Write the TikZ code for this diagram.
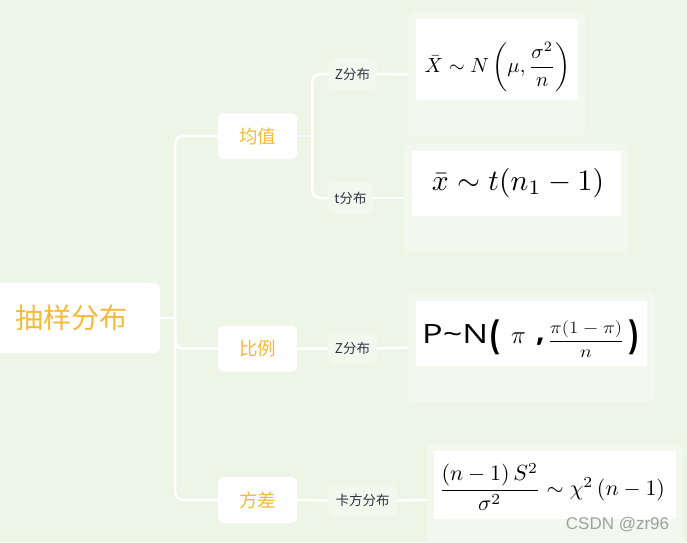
\documentclass[tikz,border=0pt]{standalone}
\usepackage{fontspec}
\usepackage{graphicx}
\usepackage{amsmath}
\newfontfamily\cjk{Noto Sans CJK SC}
\newfontfamily\osans{Open Sans}
\newfontfamily\wmfont{Liberation Sans}
\definecolor{bgc}{HTML}{EDF5E7}
\definecolor{paleb}{HTML}{F3F8EE}
\definecolor{orangec}{HTML}{F7B939}
\definecolor{darkc}{HTML}{333344}
\definecolor{wmc}{HTML}{A0A0A0}
\begin{document}
\begin{tikzpicture}[x=1pt,y=-1pt,
  rootbox/.style={fill=white,rounded corners=6pt,inner sep=0pt,minimum width=178pt,minimum height=70pt,font=\cjk\fontsize{28}{30}\selectfont,text=orangec},
  lvbox/.style={fill=white,rounded corners=6pt,inner sep=0pt,minimum width=79pt,minimum height=46pt,font=\cjk\fontsize{18.5}{20}\selectfont,text=orangec},
  smallbox/.style={fill=paleb,rounded corners=6pt,inner sep=0pt,minimum height=32pt,font=\cjk\fontsize{13.5}{15}\selectfont,text=darkc},
  outerbox/.style={fill=paleb,rounded corners=6pt,inner sep=0pt},
  innerbox/.style={fill=white,inner sep=0pt},
  conn/.style={draw=white,line width=2.5pt},
  fnode/.style={inner sep=0pt}]
\fill[bgc] (0,0) rectangle (687,542);
\useasboundingbox (0,0) rectangle (687,542);

% outer formula boxes
\node[outerbox,minimum width=177pt,minimum height=125pt] (f1) at (496.5,74.5) {};
\node[outerbox,minimum width=224pt,minimum height=108pt] (f2) at (516,198) {};
\node[outerbox,minimum width=247pt,minimum height=109pt] (f3) at (531.5,347.5) {};
\node[outerbox,minimum width=256pt,minimum height=112pt] (f4) at (555,500) {};
% inner white boxes
\node[innerbox,minimum width=162pt,minimum height=81pt] (i1) at (497,59.5) {};
\node[innerbox,minimum width=209pt,minimum height=65pt] (i2) at (516.5,183.5) {};
\node[innerbox,minimum width=231pt,minimum height=65pt] (i3) at (531.5,333.5) {};
\node[innerbox,minimum width=242pt,minimum height=68pt] (i4) at (555,485) {};
% formulas
\node[fnode] (m1) at (497.5,67) {\resizebox{146pt}{!}{$\bar{X}\sim N\left(\mu,\dfrac{\sigma^2}{n}\right)$}};
\node[fnode] (m2) at (518,183) {\resizebox{172pt}{!}{$\bar{x}\sim t(n_1-1)$}};
% proportion formula, piece by piece
\node[fnode,anchor=base west] (m3a) at (422,343) {\resizebox{66pt}{19pt}{\osans P\char"7E N}};
\node[fnode,anchor=north west] (m3b) at (490,320) {\resizebox*{10pt}{35pt}{\osans\bfseries (}};
\node[fnode,anchor=base west] (m3c) at (511,343) {\fontsize{23}{25}\selectfont$\pi$};
\node[fnode,anchor=base west] (m3d) at (536,341) {\osans\bfseries\fontsize{30}{30}\selectfont ,};
\node[fnode] (m3e) at (586,339) {\fontsize{17}{19}\selectfont\scalebox{1.17}[1]{$\dfrac{\pi(1-\pi)}{n}$}};
\node[fnode,anchor=north west] (m3f) at (628,320) {\resizebox*{10pt}{35pt}{\osans\bfseries )}};
\node[fnode] (m4) at (552,487) {\resizebox{226pt}{!}{$\dfrac{(n-1)\,S^2}{\sigma^2}\sim\chi^2\,(n-1)$}};

% main nodes
\node[rootbox] (root) at (71,318) {抽样分布};
\node[lvbox] (mean) at (257.5,136) {均值};
\node[lvbox] (prop) at (257.5,348.5) {比例};
\node[lvbox] (var) at (257.5,500) {方差};
\node[smallbox,minimum width=49pt] (z1) at (352.5,74) {Z分布};
\node[smallbox,minimum width=45pt] (t1) at (350.5,198) {t分布};
\node[smallbox,minimum width=49pt] (z2) at (352.5,348.5) {Z分布};
\node[smallbox,minimum width=69pt] (chi) at (362.5,500.5) {卡方分布};

% connectors
\draw[conn] (root.east) -- ++(15,0) coordinate (j1);
\draw[conn,rounded corners=8pt] (j1) |- (mean.west);
\draw[conn,rounded corners=8pt] (j1) |- (prop.west);
\draw[conn,rounded corners=8pt] (j1) |- (var.west);
\draw[conn] (mean.east) -- ++(15,0) coordinate (j2);
\draw[conn,rounded corners=8pt] (j2) |- (z1.west);
\draw[conn,rounded corners=8pt] (j2) |- (t1.west);
\draw[conn] (prop.east) -- (z2.west);
\draw[conn] (var.east) -- (chi.west);
\draw[conn] (z1.east) -- (f1.west);
\draw[conn] (t1.east) -- (f2.west);
\draw[conn] (z2.east) -- (f3.west);
\draw[conn] (chi.east) -- (f4.west);

% watermark
\node[inner sep=0pt,text=wmc,font=\wmfont\fontsize{17}{17}\selectfont] (wm) at (617.5,525) {CSDN @zr96};
\end{tikzpicture}
\end{document}
